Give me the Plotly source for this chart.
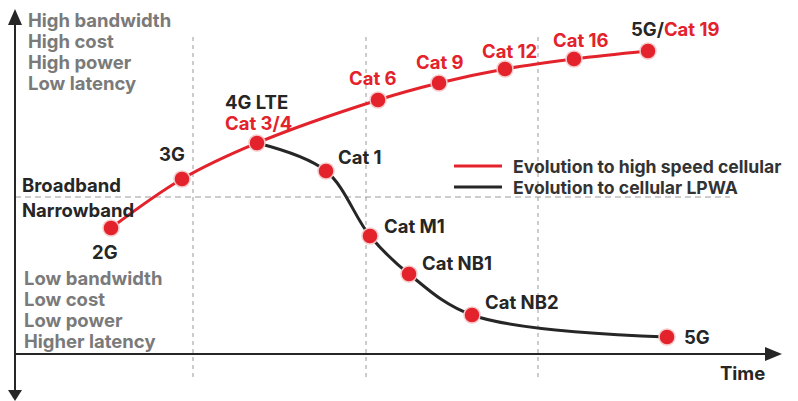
import plotly.graph_objects as go

# ---- data (time position, capability level) ----
high_speed_labels = ["2G", "3G", "Cat 3/4", "Cat 6", "Cat 9", "Cat 12", "Cat 16", "Cat 19"]
high_speed_time = [111, 182, 257, 378, 439, 505, 574, 648]
high_speed_level = [173, 222, 258, 301, 318, 332, 342, 350]

lpwa_labels = ["Cat 3/4", "Cat 1", "Cat M1", "Cat NB1", "Cat NB2", "5G"]
lpwa_time = [257, 326, 370, 409, 472, 667]
lpwa_level = [258, 230, 165, 127, 86, 64]

era_boundaries = [193, 366, 538]
band_boundary = 204

RED = "#e3222b"
DARK = "#262626"
GRAY = "#7a7a7a"
FONT = "Inter"
FS = 18.5

fig = go.Figure()

fig.add_trace(go.Scatter(x=lpwa_time, y=lpwa_level, mode="lines",
                         line=dict(color=DARK, width=3, shape="spline", smoothing=1.0),
                         hoverinfo="skip", showlegend=False))
fig.add_trace(go.Scatter(x=high_speed_time, y=high_speed_level, mode="lines",
                         line=dict(color=RED, width=3, shape="spline", smoothing=1.0),
                         hoverinfo="skip", showlegend=False))
fig.add_trace(go.Scatter(x=lpwa_time[1:], y=lpwa_level[1:], mode="markers",
                         marker=dict(color=RED, size=16, line=dict(color="#f6c9cb", width=1.5)),
                         text=lpwa_labels[1:], showlegend=False))
fig.add_trace(go.Scatter(x=high_speed_time, y=high_speed_level, mode="markers",
                         marker=dict(color=RED, size=16, line=dict(color="#f6c9cb", width=1.5)),
                         text=high_speed_labels, showlegend=False))

shapes = []
# dashed guides
for xb in era_boundaries:
    shapes.append(dict(type="line", x0=xb, x1=xb, y0=24, y1=368,
                       line=dict(color="#9a9a9a", width=1, dash="4px,4px"), layer="below"))
shapes.append(dict(type="line", x0=15, x1=730, y0=band_boundary, y1=band_boundary,
                   line=dict(color="#9a9a9a", width=1, dash="6px,4px"), layer="below"))
# axes
shapes.append(dict(type="line", x0=15, x1=15, y0=6, y1=381, line=dict(color=DARK, width=2)))
shapes.append(dict(type="line", x0=15, x1=770, y0=47, y1=47, line=dict(color=DARK, width=2)))
shapes.append(dict(type="path", path="M 15,392 L 8,376 L 22,376 Z", fillcolor=DARK, line=dict(width=0)))
shapes.append(dict(type="path", path="M 15,0 L 8,11 L 22,11 Z", fillcolor=DARK, line=dict(width=0)))
shapes.append(dict(type="path", path="M 782,47 L 765,54 L 765,40 Z", fillcolor=DARK, line=dict(width=0)))
# legend lines
shapes.append(dict(type="line", x0=454, x1=502, y0=235, y1=235, line=dict(color=RED, width=3)))
shapes.append(dict(type="line", x0=454, x1=502, y0=214, y1=214, line=dict(color=DARK, width=3)))

ann = []
def t(x, y, text, color=DARK, xa="center", size=FS):
    ann.append(dict(x=x, y=y, text="<b>" + text + "</b>", showarrow=False,
                    xanchor=xa, yanchor="middle",
                    font=dict(family=FONT, size=size, color=color)))

for i, s in enumerate(["High bandwidth", "High cost", "High power", "Low latency"]):
    t(26, 381 - 21 * i, s, GRAY, "left")
for i, s in enumerate(["Low bandwidth", "Low cost", "Low power", "Higher latency"]):
    t(22, 123 - 21 * i, s, GRAY, "left")

t(20, 216, "Broadband", DARK, "left")
t(20, 191, "Narrowband", DARK, "left")
t(105, 149, "2G")
t(172, 247, "3G")
t(256, 299, "4G LTE")
t(258, 278, "Cat 3/4", RED)
t(373, 323, "Cat 6", RED)
t(440, 339, "Cat 9", RED)
t(509, 350, "Cat 12", RED)
t(581, 361, "Cat 16", RED)
ann.append(dict(x=675, y=372, text="<b>5G/<span style='color:%s'>Cat 19</span></b>" % RED,
                showarrow=False, xanchor="center", yanchor="middle",
                font=dict(family=FONT, size=FS, color=DARK)))
t(336, 244, "Cat 1", DARK, "left")
t(382, 175, "Cat M1", DARK, "left")
t(420, 138, "Cat NB1", DARK, "left")
t(483, 99, "Cat NB2", DARK, "left")
t(682, 64, "5G", DARK, "left")
t(767, 28, "Time", DARK, "right")
t(511, 235, "Evolution to high speed cellular", "#333333", "left", 17.6)
t(511, 214, "Evolution to cellular LPWA", "#333333", "left", 17.6)

# The page places the figure 8px in from the window's top-left corner,
# so the figure is 8px smaller and the ranges are shifted to compensate.
fig.update_layout(
    width=790, height=393,
    margin=dict(l=0, r=0, t=0, b=0),
    paper_bgcolor="white", plot_bgcolor="white",
    xaxis=dict(range=[8, 798], visible=False, fixedrange=True),
    yaxis=dict(range=[0, 393], visible=False, fixedrange=True),
    shapes=shapes, annotations=ann, showlegend=False,
)

fig.write_html("out.html")
